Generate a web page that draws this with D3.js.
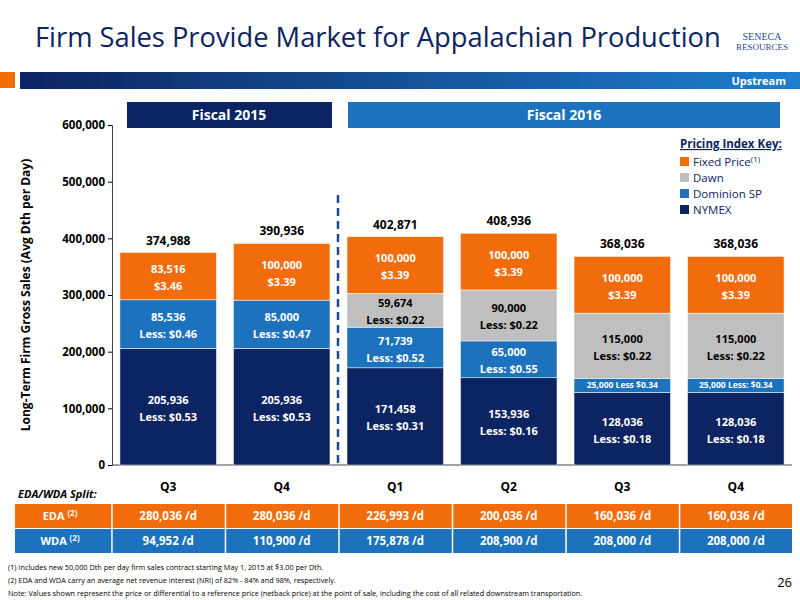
<!DOCTYPE html><html><head><meta charset="utf-8"><script src="https://cdn.jsdelivr.net/npm/d3@7"></script>
<style>body{margin:0;background:#fff}</style></head><body><svg id="c" width="800" height="600"></svg>
<script>
const quarters=["Q3","Q4","Q1","Q2","Q3","Q4"];
const nymex=[205936,205936,171458,153936,128036,128036];
const dominion=[85536,85000,71739,65000,25000,25000];
const dawn=[0,0,59674,90000,115000,115000];
const fixed=[83516,100000,100000,100000,100000,100000];
const totals=["374,988","390,936","402,871","408,936","368,036","368,036"];
const nymexLbl=["Less: $0.53","Less: $0.53","Less: $0.31","Less:  $0.16","Less:  $0.18","Less: $0.18"];
const domLbl=["Less: $0.46","Less: $0.47","Less: $0.52","Less: $0.55","25,000 Less $0.34","25,000  Less: $0.34"];
const dawnLbl=["","","Less: $0.22","Less: $0.22","Less: $0.22","Less: $0.22"];
const fixedLbl=["$3.46","$3.39","$3.39","$3.39","$3.39","$3.39"];
const eda=["280,036 /d","280,036 /d","226,993 /d","200,036 /d","160,036 /d","160,036 /d"];
const wda=["94,952 /d","110,900 /d","175,878 /d","208,900 /d","208,000 /d","208,000 /d"];
const yTicks=[0,100000,200000,300000,400000,500000,600000];
const C={nymex:"#0c2461",dom:"#1c72bd",dawn:"#bfbfbf",fixed:"#f36c0c"};
const F="'Open Sans',sans-serif";
const svg=d3.select("#c");
const defs=svg.append("defs");
const g1=defs.append("linearGradient").attr("id","hg");
g1.append("stop").attr("offset","0").attr("stop-color","#0c2461");
g1.append("stop").attr("offset","1").attr("stop-color","#1e7fd0");
svg.append("text").attr("x",35).attr("y",47).attr("font-family",F).attr("font-size",27.3).attr("fill","#0c2461").text("Firm Sales Provide Market for Appalachian Production");
svg.append("text").attr("x",762).attr("y",40).attr("text-anchor","middle").attr("font-family","serif").attr("font-size",10).attr("fill","#2a4a8a").text("SENECA");
svg.append("text").attr("x",762).attr("y",50).attr("text-anchor","middle").attr("font-family","serif").attr("font-size",9).attr("fill","#2a4a8a").text("RESOURCES");
svg.append("rect").attr("x",0).attr("y",72).attr("width",15).attr("height",16).attr("fill","#f36c0c");
svg.append("rect").attr("x",20).attr("y",72).attr("width",780).attr("height",17).attr("fill","url(#hg)");
svg.append("text").attr("x",786).attr("y",85).attr("text-anchor","end").attr("font-family",F).attr("font-weight","bold").attr("font-size",11).attr("fill","#fff").text("Upstream");
const x=d3.scaleBand().domain(d3.range(6)).range([112,792]).paddingInner(0.15).paddingOuter(0.07);
const y=d3.scaleLinear().domain([0,600000]).range([465,125]);
svg.append("rect").attr("x",127).attr("y",102).attr("width",205).attr("height",26).attr("fill","#0c2461");
svg.append("text").attr("x",229).attr("y",120).attr("text-anchor","middle").attr("font-family",F).attr("font-weight","bold").attr("font-size",14).attr("fill","#fff").text("Fiscal 2015");
svg.append("rect").attr("x",348).attr("y",102).attr("width",432).attr("height",26).attr("fill","#1c72bd");
svg.append("text").attr("x",564).attr("y",120).attr("text-anchor","middle").attr("font-family",F).attr("font-weight","bold").attr("font-size",14).attr("fill","#fff").text("Fiscal 2016");
const ax=svg.append("g").attr("transform","translate(112,0)").call(d3.axisLeft(y).tickValues(yTicks).tickSize(4).tickFormat(d=>d3.format(",")(d)));
ax.selectAll("text").attr("font-family",F).attr("font-weight","bold").attr("font-size",11.5).attr("fill","#000");
ax.select(".domain").attr("stroke","#444");
svg.append("line").attr("x1",112).attr("x2",792).attr("y1",465).attr("y2",465).attr("stroke","#444");
svg.append("text").attr("transform","translate(30,295) rotate(-90)").attr("text-anchor","middle").attr("font-family",F).attr("font-weight","bold").attr("font-size",12).text("Long-Term Firm Gross Sales (Avg Dth per Day)");
const series=[{v:nymex,c:C.nymex,n:nymex.map(d3.format(",")),l:nymexLbl,tc:"#fff"},{v:dominion,c:C.dom,n:dominion.map(d3.format(",")),l:domLbl,tc:"#fff"},{v:dawn,c:C.dawn,n:dawn.map(d3.format(",")),l:dawnLbl,tc:"#000"},{v:fixed,c:C.fixed,n:fixed.map(d3.format(",")),l:fixedLbl,tc:"#fff"}];
for(let i=0;i<6;i++){let base=0;
 series.forEach((s,k)=>{const v=s.v[i];if(!v)return;const y0=y(base),y1=y(base+v);
  svg.append("rect").attr("x",x(i)).attr("y",y1).attr("width",x.bandwidth()).attr("height",y0-y1).attr("fill",s.c).attr("stroke","#fff").attr("stroke-width",0.5);
  const cx=x(i)+x.bandwidth()/2, cy=(y0+y1)/2;
  const t=svg.append("text").attr("text-anchor","middle").attr("font-family",F).attr("font-weight","bold").attr("fill",s.tc);
  if(k==1&&i>=4){t.attr("x",cx).attr("y",cy+3).attr("font-size",8.5).text(s.l[i]);}
  else{t.attr("font-size",11);t.append("tspan").attr("x",cx).attr("y",cy-3).text(s.n[i]);t.append("tspan").attr("x",cx).attr("y",cy+14).text(s.l[i]);}
  base+=v;});
 svg.append("text").attr("x",x(i)+x.bandwidth()/2).attr("y",y(base)-8).attr("text-anchor","middle").attr("font-family",F).attr("font-weight","bold").attr("font-size",12).text(totals[i]);
 svg.append("text").attr("x",x(i)+x.bandwidth()/2).attr("y",491).attr("text-anchor","middle").attr("font-family",F).attr("font-weight","bold").attr("font-size",12).text(quarters[i]);
}
svg.append("line").attr("x1",338).attr("x2",338).attr("y1",195).attr("y2",465).attr("stroke","#1c4aa0").attr("stroke-width",2.5).attr("stroke-dasharray","8,5");
const lg=svg.append("g").attr("font-family",F).attr("font-size",11.5).attr("fill","#0c2461");
lg.append("text").attr("x",680).attr("y",148).attr("font-weight","bold").attr("text-decoration","underline").text("Pricing Index Key:");
[["Fixed Price",C.fixed],["Dawn",C.dawn],["Dominion SP",C.dom],["NYMEX",C.nymex]].forEach((d,i)=>{
 lg.append("rect").attr("x",680).attr("y",157+i*16).attr("width",9).attr("height",9).attr("fill",d[1]);
 const t=lg.append("text").attr("x",693).attr("y",166+i*16).text(d[0]);
 if(i==0)t.append("tspan").attr("font-size",8).attr("dy",-4).text("(1)");
});
svg.append("text").attr("x",18).attr("y",498).attr("font-family",F).attr("font-weight","bold").attr("font-style","italic").attr("font-size",11).text("EDA/WDA Split:");
[[eda,"EDA",C.fixed,504],[wda,"WDA","#1c72bd",529]].forEach(r=>{
 svg.append("rect").attr("x",15).attr("y",r[3]).attr("width",777).attr("height",24).attr("fill",r[2]);
 const tt=svg.append("text").attr("x",60).attr("y",r[3]+16).attr("text-anchor","middle").attr("font-family",F).attr("font-weight","bold").attr("font-size",11).attr("fill","#fff").text(r[1]+" ");
 tt.append("tspan").attr("font-size",8).attr("dy",-4).text("(2)");
 for(let i=0;i<6;i++){
  svg.append("line").attr("x1",x(i)-8).attr("x2",x(i)-8).attr("y1",r[3]).attr("y2",r[3]+24).attr("stroke","#fff").attr("stroke-width",1.5);
  svg.append("text").attr("x",x(i)+x.bandwidth()/2).attr("y",r[3]+16).attr("text-anchor","middle").attr("font-family",F).attr("font-weight","bold").attr("font-size",11.5).attr("fill","#fff").text(r[0][i]);}
});
const notes=["(1)    Includes new 50,000 Dth per day firm sales  contract starting May 1, 2015 at $3.00 per Dth.","(2)    EDA and WDA carry an average net revenue interest (NRI) of 82% - 84% and 98%, respectively.","Note: Values shown represent the price or differential to a reference price (netback price) at the point of sale, including the cost of all related downstream transportation."];
notes.forEach((n,i)=>svg.append("text").attr("x",8).attr("y",570+i*13).attr("font-family",F).attr("font-size",7.3).text(n));
svg.append("text").attr("x",792).attr("y",587).attr("text-anchor","end").attr("font-family",F).attr("font-size",13).text("26");
</script></body></html>
